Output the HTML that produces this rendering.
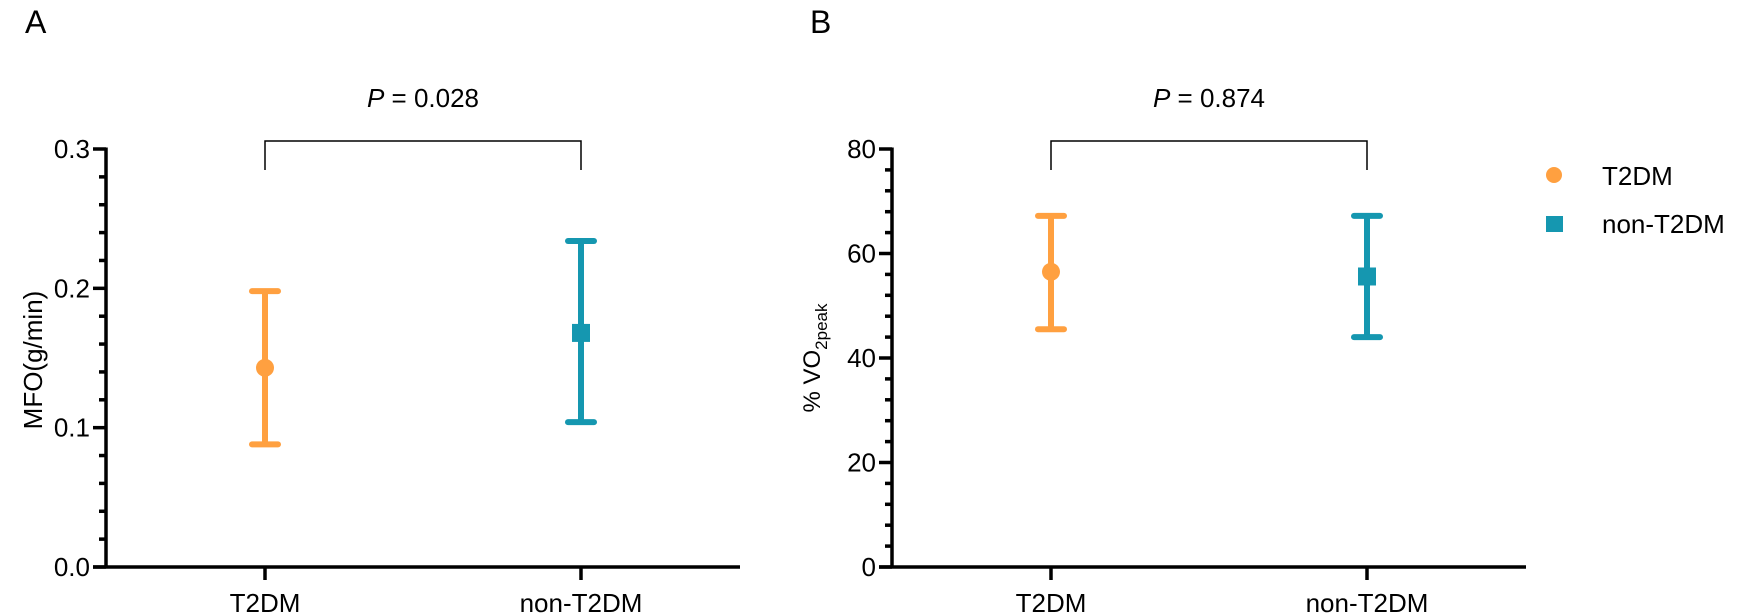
<!DOCTYPE html>
<html><head><meta charset="utf-8"><style>
body{margin:0;background:#fff;}
svg{display:block;font-family:"Liberation Sans",Arial,sans-serif;}
</style></head><body>
<svg id="c" width="1748" height="613"></svg>
<script>
const categories = ["T2DM","non-T2DM"];
const mfoMean = [0.143, 0.168];
const mfoUpper = [0.198, 0.234];
const mfoLower = [0.088, 0.104];
const vo2Mean = [56.5, 55.6];
const vo2Upper = [67.2, 67.2];
const vo2Lower = [45.5, 44.0];
const mfoTicks = ["0.0","0.1","0.2","0.3"];
const vo2Ticks = ["0","20","40","60","80"];
const pValues = ["0.028","0.874"];
const colors = ["#FFA040","#1597B0"];
const NS="http://www.w3.org/2000/svg";
const svg=document.getElementById('c');
function mk(t,a,p){const e=document.createElementNS(NS,t);for(const k in a)e.setAttribute(k,a[k]);(p||svg).appendChild(e);return e;}
function panel(o){
  const g=mk('g',{});
  
  
  const y=v=>o.y0-(v-o.min)/(o.max-o.min)*(o.y0-o.y1);
  const xs=[o.ax+159,o.ax+475];
  const ya=mk('line',{x1:o.ax,y1:o.y1-1.5,x2:o.ax,y2:o.y0+1.5,stroke:'#000','stroke-width':3.5},g);
  
  const xa=mk('line',{x1:o.ax-13,y1:o.y0,x2:o.ax+634,y2:o.y0,stroke:'#000','stroke-width':3.5},g);
  
  const n=o.ticks.length-1;
  const step=(o.max-o.min)/n;
  for(let i=0;i<=n;i++){
    const v=o.min+i*step;
    mk('line',{x1:o.ax-13,y1:y(v),x2:o.ax,y2:y(v),stroke:'#000','stroke-width':3.5},g);
    const t=mk('text',{x:o.ax-16,y:y(v)+9,'text-anchor':'end','font-size':26},g);
    t.textContent=o.ticks[i];
    
    if(i<n){for(let k=1;k<5;k++){const vv=v+step*k/5;mk('line',{x1:o.ax-7,y1:y(vv),x2:o.ax,y2:y(vv),stroke:'#000','stroke-width':3.5},g);}}
  }
  categories.forEach((c,i)=>{
    mk('line',{x1:xs[i],y1:o.y0,x2:xs[i],y2:o.y0+13,stroke:'#000','stroke-width':3.5},g);
    const t=mk('text',{x:xs[i],y:o.y0+45,'text-anchor':'middle','font-size':26},g);
    t.textContent=c;
    const eb=mk('g',{},g);
    
    mk('line',{x1:xs[i],y1:y(o.up[i]),x2:xs[i],y2:y(o.lo[i]),stroke:colors[i],'stroke-width':6},eb);
    mk('line',{x1:xs[i]-13,y1:y(o.up[i]),x2:xs[i]+13,y2:y(o.up[i]),stroke:colors[i],'stroke-width':6,'stroke-linecap':'round'},eb);
    mk('line',{x1:xs[i]-13,y1:y(o.lo[i]),x2:xs[i]+13,y2:y(o.lo[i]),stroke:colors[i],'stroke-width':6,'stroke-linecap':'round'},eb);
    let m;
    if(i==0)m=mk('circle',{cx:xs[i],cy:y(o.mean[i]),r:9,fill:colors[i]},g);
    else m=mk('rect',{x:xs[i]-9,y:y(o.mean[i])-9,width:18,height:18,fill:colors[i]},g);
    
  });
  const br=mk('polyline',{points:`${xs[0]},170 ${xs[0]},141 ${xs[1]},141 ${xs[1]},170`,fill:'none',stroke:'#000','stroke-width':1.5},g);
  
  const pt=mk('text',{x:(xs[0]+xs[1])/2,y:107,'text-anchor':'middle','font-size':26},g);
  pt.innerHTML='<tspan font-style="italic">P</tspan> = '+o.p;
  
  const L=mk('text',{x:o.lx,y:33,'font-size':32},g);L.textContent=o.letter;
  
  return y;
}
panel({name:'panel-a',ax:106,y0:567,y1:149,min:0,max:0.3,ticks:mfoTicks,mean:mfoMean,up:mfoUpper,lo:mfoLower,p:pValues[0],letter:'A',lx:25});
panel({name:'panel-b',ax:892,y0:567,y1:149,min:0,max:80,ticks:vo2Ticks,mean:vo2Mean,up:vo2Upper,lo:vo2Lower,p:pValues[1],letter:'B',lx:810});
let t=mk('text',{x:0,y:0,'text-anchor':'middle','font-size':26,transform:'translate(42 360) rotate(-90)'});
t.textContent='MFO(g/min)';
t=mk('text',{x:0,y:0,'text-anchor':'middle','font-size':24,transform:'translate(820 358) rotate(-90)'});
t.innerHTML='% VO<tspan font-size="17" dy="7">2peak</tspan>';

const lg=mk('g',{});
mk('circle',{cx:1554,cy:175,r:8,fill:colors[0]},lg);
let e=mk('text',{x:1602,y:185,'font-size':26},lg);e.textContent='T2DM';
mk('rect',{x:1546,y:216,width:17,height:16,fill:colors[1]},lg);
e=mk('text',{x:1602,y:233,'font-size':26},lg);e.textContent='non-T2DM';
</script>
</body></html>
